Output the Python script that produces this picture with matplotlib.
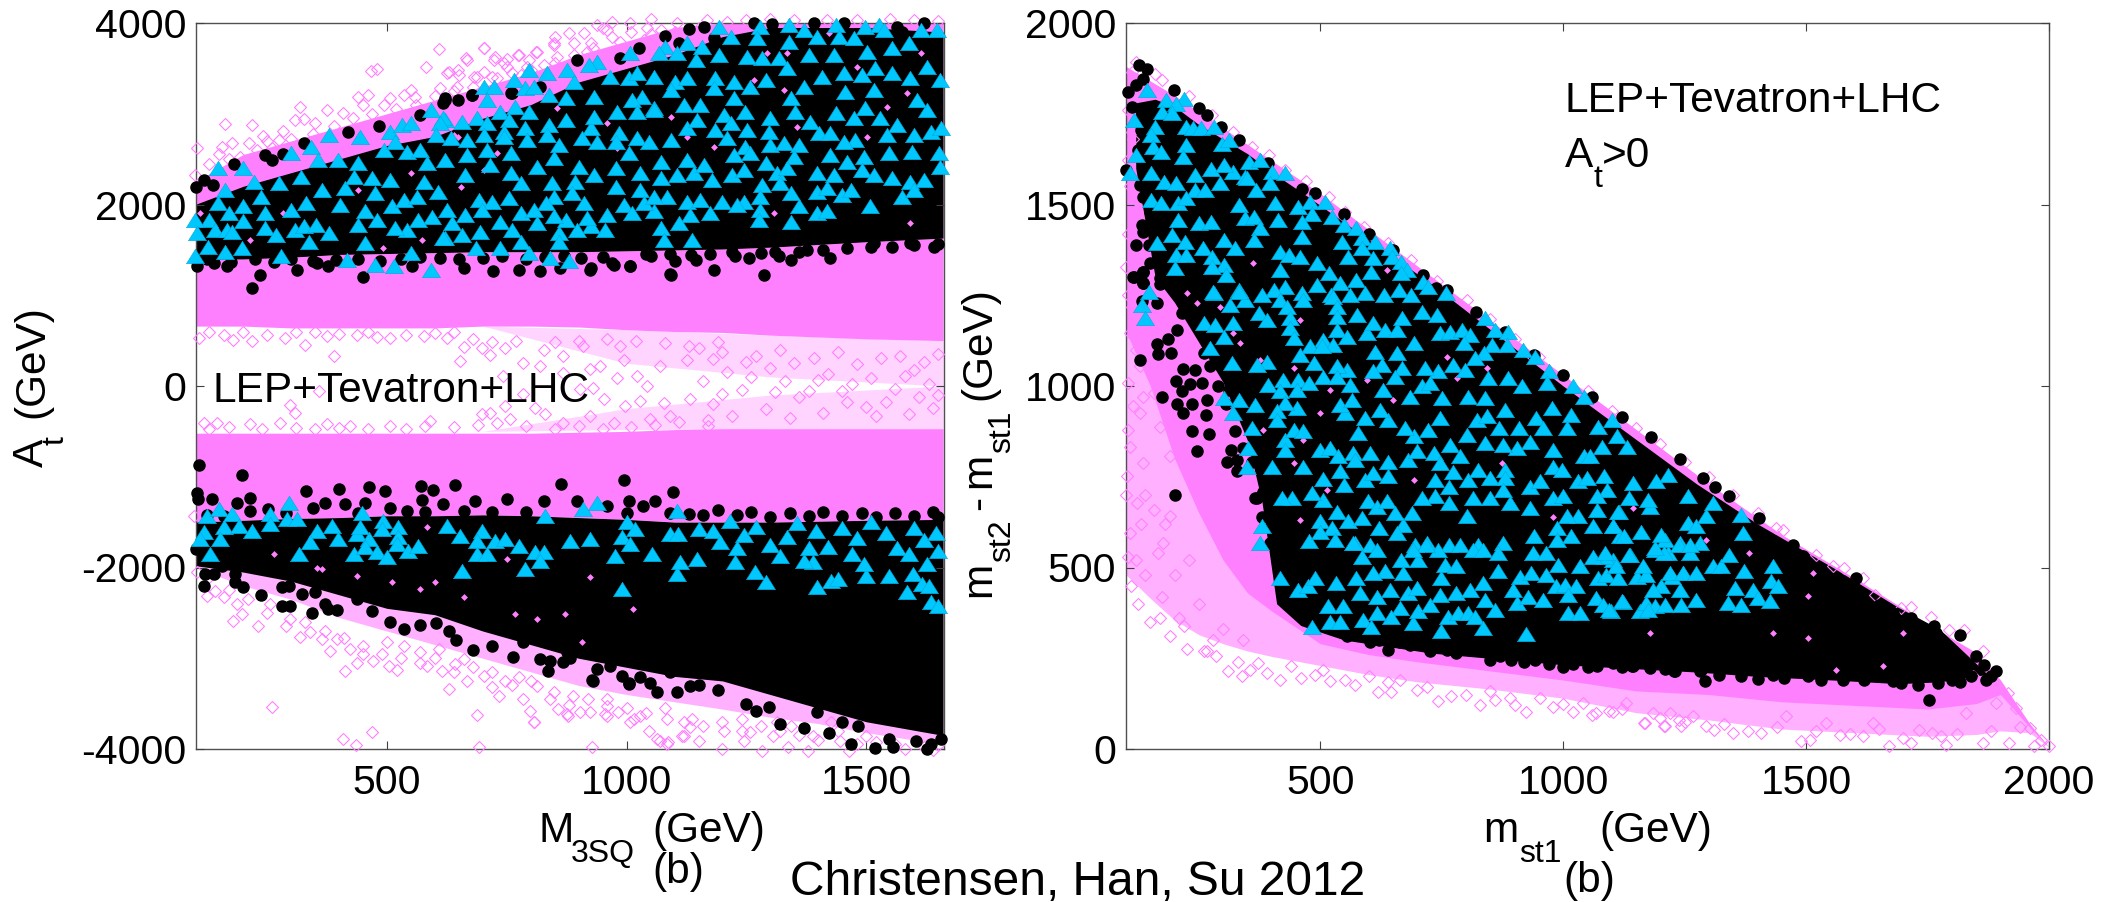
#!/usr/bin/env python
# dense parts of the clouds are drawn as bands, the edge points one by one
import numpy as np
import matplotlib
matplotlib.use('Agg')
import matplotlib.pyplot as plt

plt.rcParams['font.family'] = ['Liberation Sans', 'DejaVu Sans']
plt.rcParams['axes.unicode_minus'] = False

PINK = '#ff80ff'
PALE = '#ffb0ff'
FAINT = '#ffd4ff'
CYAN = '#00c8ff'
TRI = [(-1, -0.8), (1, -0.8), (0, 0.8), (-1, -0.8)]

# left panel, bands
l_x = [100, 200, 300, 400, 500, 600, 700, 800, 900, 1000, 1100, 1200, 1300, 1400, 1500, 1660]
l_pink_top = [2250, 2550, 2700, 2850, 3000, 3150, 3300, 3450, 3650, 3800, 3950, 4000, 4000, 4000, 4000, 4000]
l_black_top = [2000, 2200, 2350, 2500, 2650, 2750, 2950, 3100, 3350, 3500, 3650, 3850, 3950, 3950, 3950, 3900]
l_black_bot = [1400, 1400, 1420, 1450, 1460, 1470, 1480, 1480, 1480, 1490, 1500, 1510, 1530, 1560, 1590, 1630]
l_dense_low = [660, 660, 640, 640, 640, 640, 660, 660, 650, 620, 600, 590, 560, 540, 520, 500]
l_gap_top = [-520, -520, -520, -520, -520, -520, -520, -520, -510, -500, -480, -470, -470, -470, -470, -470]
l_low_black_top = [-1500, -1480, -1460, -1450, -1430, -1430, -1420, -1430, -1450, -1470, -1500, -1500, -1500, -1490, -1480, -1470]
l_low_black_bot = [-1980, -2050, -2150, -2300, -2450, -2520, -2700, -2850, -3000, -3100, -3200, -3250, -3400, -3550, -3700, -3850]
l_low_pink_bot = [-2000, -2200, -2350, -2550, -2700, -2850, -3000, -3150, -3300, -3400, -3480, -3560, -3650, -3720, -3820, -3950]
l_wedge_x = [700, 1000, 1300, 1660]
l_wedge_top = [660, 620, 560, 500]
l_wedge_mid_up = [660, 250, 100, 0]
l_wedge_mid_low = [-500, -250, -100, 0]
l_wedge_bot = [-500, -480, -470, -470]

# left panel, single open diamonds
l_diamonds = [162,2884, 218,2877, 242,2756, 318,3079, 309,2932, 327,2939, 283,2814, 275,2712, 467,3471, 480,3490,
    581,3519, 609,3710, 703,3728, 439,3189, 506,3170, 536,3207, 558,3189, 625,3453, 666,3611, 726,3629, 774,3647,
    811,3684, 849,3776, 104,2620, 100,2326, 156,2638, 178,2675, 212,2675, 193,2528, 376,3042, 409,3005, 461,3207,
    495,3097, 610,3280, 648,3482, 689,3409, 745,3556, 797,3592, 702,3721, 668,3592, 629,3464, 723,3592, 775,3648,
    814,3684, 848,3758, 880,3886, 911,3893, 939,3978, 970,4015, 1008,3996, 1043,3941, 1071,3923, 1105,3996,
    1168,4033, 1210,4015, 1418,4033, 793,3519, 751,3519, 681,3409, 647,3299, 855,3629, 890,3776, 925,3776, 960,3923,
    987,3794, 1036,3813, 918,3684, 827,3537, 779,3427, 702,3464, 730,3391,
    130,2450, 170,2500, 230,2600, 260,2620, 300,2720, 345,2780, 390,2860, 430,2950, 470,3000, 520,3050, 560,3100,
    600,3200, 640,3250, 680,3300, 720,3400, 760,3450, 800,3480, 850,3560, 890,3650, 930,3720, 970,3850, 1010,3900,
    1050,3880, 1100,3900, 1150,3950, 1250,4030, 1300,4040, 1350,4030, 1480,4030, 1550,4040, 1600,4030, 1650,4020,
    150,2560, 250,2700, 350,2900, 450,3100, 550,3260, 650,3430, 750,3600, 850,3850, 950,3950, 1050,4040,
    109,531, 180,512, 219,494, 288,531, 330,457, 389,329, 375,549, 437,567, 507,531, 577,549, 625,531, 660,431,
    652,274, 698,420, 716,347, 747,420, 785,255, 827,402, 868,329, 910,439, 945,219, 987,439, 1021,108, 1070,219,
    1125,292, 994,292, 931,-20, 1028,-167, 1077,-185, 997,-222, 952,-148, 903,-38, 830,-314, 785,-93, 698,-314,
    716,-295, 747,-222, 809,-240, 757,-369, 358,-57, 297,-211, 309,-295, 590,-387, 868,-405, 924,-332, 973,-405,
    1049,-369, 1091,-332, 1132,-148, 1042,-2, 980,90, 924,182, 868,145, 820,219, 743,108, 118,-405, 146,-405,
    215,-424, 278,-405, 375,-424, 424,-442, 507,-442,
    130,600, 160,560, 200,590, 250,560, 310,590, 350,600, 400,570, 460,600, 480,540, 540,560, 600,580, 640,600,
    680,520, 720,480, 770,500, 850,480, 900,500, 960,520, 1020,500, 1080,470, 1130,440, 1190,480, 130,-470, 170,-450,
    240,-470, 310,-460, 350,-470, 400,-460, 460,-470, 540,-470, 580,-440, 640,-450, 690,-430, 730,-410, 790,-440,
    850,-470, 900,-440, 950,-470, 1010,-450, 1060,-430, 1110,-400, 1170,-440,
    1150,420, 1180,300, 1210,150, 1240,-40, 1270,330, 1300,200, 1330,60, 1360,-120, 1390,310, 1420,130, 1450,-50,
    1480,240, 1510,90, 1540,-180, 1570,330, 1600,180, 1630,20, 1650,-100, 1180,-200, 1220,-330, 1260,100, 1290,-250,
    1320,400, 1350,250, 1380,-60, 1410,-300, 1440,380, 1470,20, 1500,-230, 1530,310, 1560,-30, 1590,-310, 1620,260,
    1640,-240, 1160,60, 1200,-90, 1250,260, 1310,-70, 1340,-350, 1400,70, 1460,-180, 1520,-330, 1580,110, 1610,-120,
    1650,350, 1200,370, 1170,-380,
    260,-3534, 688,-3625, 408,-3890, 469,-3809, 436,-3952, 693,-3981, 927,-3981, 1070,-3915, 1085,-3945, 629,-3339,
    667,-3247, 733,-3413, 806,-3706, 799,-3578, 875,-3614, 858,-3559, 785,-3449, 959,-3523, 983,-3596, 1007,-3706,
    1046,-3798, 955,-3614, 924,-3596, 903,-3596, 1115,-3853, 1132,-3761, 1084,-3669, 1028,-3633, 180,-2587, 198,-2513,
    232,-2642, 319,-2770, 340,-2715, 382,-2917, 413,-3137, 437,-3053, 472,-3027, 504,-3082, 521,-3126, 424,-2899,
    451,-2862, 583,-3082, 615,-3137, 643,-3064, 660,-3009, 702,-3192, 719,-3321, 747,-3247, 775,-3211, 813,-3302,
    848,-3376, 889,-3413, 187,-2403, 160,-2330, 125,-2312, 142,-2256, 104,-2055, 97,-1431, 257,-2403, 298,-2568,
    365,-2789, 396,-2789, 500,-2825, 535,-2862, 570,-2935, 608,-2899, 1063,-3889, 1086,-3926, 807,-3705, 1198,-3999,
    1282,-4017, 1337,-3981, 1379,-4017, 1463,-4017, 877,-3632, 960,-3632, 1016,-3669, 1119,-3852, 1151,-3907,
    1244,-3907, 1258,-3815, 1203,-3797, 1137,-3669, 1305,-3852, 1389,-3852, 1445,-3907, 1342,-3742, 1426,-3705,
    1240,-3669, 1314,-3705, 1500,-3852, 1560,-3950, 1620,-3980, 1650,-3960,
    130,-2100, 170,-2250, 210,-2350, 250,-2500, 290,-2650, 330,-2600, 370,-2700, 410,-2780, 450,-2950, 490,-2950,
    530,-3000, 570,-3050, 600,-3000, 640,-3150, 680,-3100, 720,-3150, 760,-3300, 800,-3250, 840,-3450, 880,-3520,
    920,-3450, 960,-3450, 1000,-3550, 1040,-3600, 1080,-3550, 1120,-3700, 1160,-3750, 1200,-3700, 1240,-3800,
    1280,-3750, 1320,-3800, 1360,-3850, 1400,-3900, 1440,-3800, 1480,-3950, 1520,-3920, 1580,-4000, 1640,-4010]

# left panel, pink showing through the black
l_holes = [855,3060, 1092,2969, 1126,2748, 1182,2638, 1328,3262, 1356,2858, 1502,2748, 1543,3079, 1585,3225, 1265,3372,
    1293,3666, 1335,3666, 1613,3666, 1422,3886, 1481,3519, 779,3170, 730,2565, 980,2620, 960,2895, 1307,1904, 640,2767,
    702,2381, 654,2198, 1592,1794, 283,1904, 439,2161, 215,1611, 491,1519, 573,1611, 111,1904, 156,2345, 551,2345,
    648,2748, 264,-1853, 365,-2018, 510,-2165, 570,-2238, 601,-2165, 660,-2330, 768,-2513, 813,-2568, 907,-2825,
    872,-2513, 1014,-2458, 924,-2110, 437,-2091, 354,-2000, 583,-1559, 750,-1908]

# left panel, black circles outside the solid bands
l_circles = [102,2198, 119,2271, 137,2216, 182,2447, 245,2546, 260,2491, 283,2557, 327,2675, 420,2803, 484,2869, 569,2987,
    621,3170, 618,3115, 649,3152, 677,3207, 759,3225, 819,3299, 622,3152, 678,3207, 761,3225, 897,3592, 987,3611,
    1025,3721, 1081,3857, 1130,3930, 1161,3960, 1265,3996, 1303,3989, 1390,3996, 1453,3996, 1564,3960, 1575,3904,
    1634,3703, 1620,3996, 1182,3831, 1109,3776,
    219,1081, 236,1228, 312,1283, 378,1320, 451,1202, 1091,1239, 775,1283, 924,1283, 820,1265, 861,1301, 1007,1320,
    973,1338, 722,1265, 660,1301, 552,1320, 354,1356, 166,1320, 139,1356, 104,1320, 1092,1226, 1286,1226, 1182,1280,
    1227,1427, 1255,1409, 1342,1390, 1376,1500, 1425,1409, 1515,1574, 1554,1537, 1641,1537, 1592,1574, 1317,1427,
    1144,1390, 1102,1372, 1050,1427, 1008,1317, 970,1354, 925,1299,
    125,1400, 175,1370, 225,1400, 265,1370, 300,1400, 345,1380, 395,1390, 440,1400, 485,1380, 530,1400, 570,1420,
    610,1410, 650,1400, 700,1410, 740,1430, 790,1400, 830,1420, 870,1430, 905,1410, 950,1420, 1040,1450, 1090,1450,
    1135,1440, 1175,1450, 1220,1480, 1280,1470, 1310,1480, 1360,1480, 1410,1500, 1460,1520, 1510,1530, 1600,1550, 1650,1570,
    105,-1181, 107,-1247, 135,-1247, 187,-1284, 214,-1229, 332,-1159, 401,-1130, 462,-1111, 497,-1159, 571,-1100,
    596,-1144, 574,-1255, 643,-1086, 864,-1082, 995,-1038, 1096,-1163, 1006,-1266, 1060,-1266, 1130,-1412, 684,-1266,
    750,-1247, 827,-1266, 896,-1266, 959,-1321, 1035,-1321, 660,-1376, 618,-1302, 542,-1376, 507,-1339, 455,-1284,
    413,-1302, 371,-1291, 347,-1339, 253,-1357, 215,-1376, 198,-985, 109,-875,
    1160,-1420, 1190,-1370, 1230,-1420, 1260,-1390, 1300,-1440, 1340,-1400, 1380,-1430, 1410,-1390, 1450,-1430,
    1490,-1400, 1520,-1440, 1560,-1400, 1600,-1430, 1640,-1390, 1650,-1440, 125,-1420, 160,-1430, 290,-1400, 440,-1400,
    580,-1390, 720,-1390, 790,-1390, 1000,-1400, 1090,-1400,
    103,-1798, 118,-2201, 121,-2073, 139,-2073, 156,-1981, 184,-2073, 184,-2165, 201,-2220, 237,-2304, 281,-2422,
    297,-2422, 281,-2220, 295,-2209, 323,-2293, 344,-2502, 351,-2275, 371,-2403, 378,-2458, 396,-2466, 437,-2348,
    469,-2477, 507,-2605, 535,-2679, 570,-2631, 603,-2612, 629,-2697, 645,-2800, 679,-2910, 719,-2862, 764,-2990,
    785,-2825, 820,-3009, 837,-3137, 841,-3027, 867,-3046, 882,-3001, 875,-2928, 927,-3240, 938,-3119, 966,-3082,
    990,-3192, 1006,-3273, 1049,-3273, 1063,-3376, 1105,-3376, 1132,-3302, 1091,-3156, 1028,-3211, 930,-3247,
    1005,-3283, 1249,-3503, 1270,-3577, 1296,-3540, 1319,-3724, 1370,-3768, 1423,-3826, 1468,-3944, 1519,-3992,
    1556,-3981, 1626,-3999, 1635,-3944, 1655,-3889, 1635,-3705, 1603,-3907, 1547,-3889, 1482,-3742, 1449,-3705,
    1398,-3595, 1190,-3350, 1150,-3290]

# left panel, cyan triangles, upper band
l_tri_up = [1192,3960, 1217,3850, 1279,3960, 1272,3831, 1338,3978, 1338,3794, 1370,3923, 1397,3850, 1436,3978, 1442,3850,
    1474,3831, 1498,3960, 1526,3978, 1536,3923, 1613,3923, 1648,3923, 1588,3776, 1554,3721, 1502,3684, 1432,3648,
    1380,3648, 1317,3611, 1283,3611, 1251,3629, 1192,3648, 1158,3739, 1126,3776, 1081,3739, 1067,3666, 1105,3666,
    1144,3592, 1008,3666, 939,3574, 876,3482, 834,3446, 796,3482, 765,3372, 702,3299, 723,3299, 789,3281, 807,3299,
    838,3207, 890,3354, 921,3537, 966,3409, 1005,3391, 1022,3446, 1057,3409, 1102,3354, 1092,3262, 1126,3391, 1185,3391,
    1224,3354, 1290,3372, 1335,3501, 1408,3409, 1453,3446, 1491,3427, 1519,3501, 1554,3446, 1592,3391, 1654,3372,
    1626,3519, 1456,3244, 1515,3262, 1370,3299, 1342,3170, 1258,3299, 1224,3170, 1182,3281, 1154,3097, 1119,3097,
    1057,3060, 1032,3189, 1012,3152, 980,3024, 932,3189, 873,3170, 796,3024, 768,3079, 737,3024, 709,3152, 657,2914,
    622,2932, 688,2950, 754,2932, 709,2895, 744,2803, 789,2840, 838,2877, 873,2932, 925,2840, 932,2969, 1022,3024,
    1057,3042, 1126,2840, 1147,2932, 1203,2987, 1248,3024, 1300,2950, 1352,3024, 1383,2914, 1436,3005, 1474,2950,
    1498,3060, 1529,2950, 1564,2877, 1627,3042, 1606,3152, 1185,2822, 1217,2895, 1251,2822, 1297,2803, 1401,2785,
    1425,2785, 1477,2712, 1453,2693, 1543,2767, 1599,2767, 1634,2803, 1655,2840, 633,2730, 622,2492, 668,2712, 702,2767,
    744,2748, 793,2712, 834,2767, 859,2657, 907,2730, 939,2693, 984,2785, 977,2693, 1022,2730, 1046,2693, 1092,2712,
    1210,2730, 1248,2638, 1300,2657, 1328,2675, 1359,2657, 1425,2547, 1460,2473, 1495,2528, 1547,2565, 1595,2583,
    1651,2565, 668,2547, 664,2326, 709,2602, 758,2565, 758,2345, 779,2235, 716,2437, 814,2418, 848,2510, 900,2418,
    932,2326, 977,2400, 1005,2565, 1029,2345, 1071,2473, 1071,2290, 1105,2326, 1126,2492, 1140,2345, 1161,2437,
    1178,2271, 1220,2326, 1224,2547, 1258,2565, 1290,2455, 1244,2381, 1314,2345, 1349,2528, 1335,2400, 1397,2345,
    1432,2326, 1491,2381, 1515,2326, 1554,2290, 1592,2253, 1620,2271, 1654,2418, 977,2198, 893,2253, 845,2235, 1029,2161,
    1085,2088, 1126,2033, 1154,2051, 1199,2033, 1244,2033, 1283,2216, 1279,2088, 1342,2124, 1321,2235, 1397,2143,
    1418,2180, 1449,2106, 1467,2161, 1574,2088, 1599,2161, 1508,1978, 1397,1904, 1418,1923, 1359,1978, 1279,1941,
    1276,1831, 1342,1812, 1231,1996, 1175,1904, 1133,1886, 1109,1794, 1071,1739, 1078,1611, 1137,1611, 956,1721,
    959,1886, 925,1758, 918,1850, 911,2014, 887,2124, 848,2088, 994,1996, 1012,1904, 1057,1923, 1036,2014, 1057,2088,
    897,1721, 859,1684, 859,1592, 880,1372, 841,1409, 796,1464, 737,1519, 685,1519, 779,1592, 761,1721, 695,1702,
    657,1666, 622,1629, 636,1794, 626,1941, 664,1886, 692,2051, 720,2033, 754,2070, 699,1941, 737,1812, 779,1904,
    807,1941, 831,2014, 873,1831, 814,1794, 848,1868,
    148,2400, 200,2400, 301,2565, 342,2638, 379,2767, 443,2748, 506,2803, 532,2877, 551,2895, 592,3042, 618,2950,
    398,2491, 439,2455, 495,2601, 517,2693, 543,2583, 569,2601, 610,2895, 603,2767, 584,2455, 357,2491, 320,2308,
    275,2235, 223,2253, 163,2161, 148,2014, 238,2088, 201,1978, 171,1904, 130,1831, 100,1831, 104,1684, 141,1721,
    167,1721, 178,1702, 201,1813, 245,1904, 245,1739, 301,1941, 331,2014, 309,1721, 327,1758, 353,1776, 268,1666,
    338,1592, 379,1684, 279,1427, 197,1519, 163,1482, 126,1537, 100,1427, 417,1390, 454,1574, 439,1776, 480,1831,
    454,1923, 402,1996, 365,2161, 413,2179, 432,2308, 469,2289, 506,2271, 476,2124, 510,1978, 536,2051, 562,2088,
    577,2253, 607,2143, 595,1867, 543,1721, 566,1831, 517,1739, 618,1629, 551,1464, 514,1317, 476,1336, 592,1280]

# left panel, cyan triangles, lower band
l_tri_low = [295,-1284, 125,-1431, 149,-1357, 177,-1412, 257,-1412, 118,-1614, 111,-1688, 160,-1559, 191,-1541, 219,-1596,
    257,-1522, 292,-1467, 312,-1467, 153,-1688, 132,-1853, 316,-1853, 354,-1596, 340,-1724, 385,-1541, 399,-1688,
    437,-1633, 462,-1688, 448,-1394, 444,-1559, 493,-1486, 490,-1578, 524,-1559, 524,-1669, 521,-1743, 431,-1853,
    455,-1779, 479,-1834, 500,-1889, 545,-1816, 566,-1761, 625,-1541, 653,-1651, 698,-1596, 688,-1706, 688,-1853,
    709,-1853, 726,-1706, 747,-1688, 775,-1761, 809,-1834, 827,-1834, 820,-1926, 788,-2018, 656,-2036, 830,-1431,
    882,-1706, 924,-1688, 910,-1357, 938,-1284, 990,-2238, 976,-1871, 990,-1669, 1007,-1743, 1000,-1504, 1018,-1578,
    1053,-1853, 1091,-1633, 1108,-1633, 1105,-1376, 1105,-2073, 1112,-1944, 1146,-1908, 1150,-1578, 1268,-2054,
    1291,-2164, 1226,-1944, 1398,-2219, 1426,-2146, 1440,-2127, 1500,-2090, 1496,-1962, 1547,-2090, 1598,-2072,
    1584,-2274, 1617,-2182, 1631,-2200, 1635,-2384, 1650,-2421, 1626,-1962, 1389,-1944, 1370,-1925,
    1180,-1600, 1215,-1490, 1245,-1640, 1270,-1550, 1300,-1750, 1335,-1660, 1355,-1510, 1395,-1600, 1420,-1770,
    1450,-1560, 1480,-1680, 1510,-1500, 1540,-1620, 1565,-1780, 1600,-1560, 1620,-1700, 1645,-1620, 1650,-1820,
    1590,-1850, 1470,-1850, 1380,-1780, 1320,-1870, 1230,-1790, 1195,-1720]

# right panel, bands
r_x = [100, 150, 200, 250, 300, 350, 400, 500, 600, 700, 850, 1000, 1150, 1300, 1450, 1600, 1750, 1850, 1900, 1960, 2000]
r_pink_top = [1880, 1840, 1800, 1755, 1710, 1665, 1620, 1530, 1430, 1330, 1180, 1030, 880, 730, 590, 470, 345, 265, 190, 70, 5]
r_pale_low = [480, 415, 355, 315, 290, 270, 255, 230, 205, 185, 165, 140, 100, 80, 55, 45, 35, 40, 50, 45, 5]
r_dense_low = [1150, 1000, 800, 650, 520, 430, 380, 290, 260, 240, 215, 190, 160, 150, 130, 120, 110, 125, 150, 60, 5]
r_black_x = [120, 160, 200, 250, 300, 350, 380, 410, 460, 550, 730, 1000, 1275, 1400, 1555, 1690, 1775, 1870]
r_black_top = [1780, 1790, 1770, 1720, 1680, 1640, 1610, 1580, 1535, 1450, 1280, 1000, 730, 620, 500, 390, 330, 210]
r_black_bot = [1600, 1300, 1230, 1120, 1010, 850, 680, 400, 340, 300, 264, 232, 212, 200, 190, 180, 185, 205]

# right panel, single open diamonds
r_diamonds = [266,269, 310,214, 338,202, 355,218, 417,191, 461,195, 520,186, 571,177, 619,158, 646,158, 698,163, 742,131,
    770,145, 828,122, 859,136, 924,103, 979,117, 1020,103, 1068,99, 1103,103, 1168,71, 1209,62, 1243,62, 1185,99,
    286,255, 372,236, 506,218, 664,191, 890,140, 952,140, 1041,126, 1130,126, 1219,99, 1267,90,
    1095,104, 1167,72, 1208,62, 1239,81, 1294,62, 1311,53, 1349,44, 1407,44, 1490,21, 1507,26, 1569,39, 1617,35,
    1671,7, 1716,17, 1788,12, 1778,35, 1864,17, 1918,17, 1970,7, 1984,26, 2000,7, 1960,58, 1932,113, 1915,154,
    1864,269, 1826,329, 1795,329, 1757,365, 1716,391, 1695,388, 1641,425, 1617,471, 1579,498, 1555,503, 1521,535,
    1452,604, 1438,609, 1843,200, 1891,127, 1829,99, 1733,53, 1637,72, 1541,72, 1459,90,
    120,1893, 175,1843, 113,1866, 113,1700, 105,1622, 105,1420, 116,1521, 101,1329, 124,1356, 278,1746, 360,1659,
    427,1595, 518,1522, 589,1439, 687,1347, 801,1237, 900,1130, 1000,1030, 1100,930, 1200,840, 1300,750,
    160,1860, 230,1800, 320,1700, 395,1635, 470,1565, 550,1480, 640,1395, 740,1290, 850,1185, 950,1080, 1050,985,
    1150,885, 1250,790, 1350,700, 1400,650,
    109,1146, 119,1265, 112,1219, 115,944, 129,925, 109,833, 136,788, 102,751, 122,677, 157,659, 191,641, 177,567,
    109,595, 136,971, 157,980, 170,888, 191,806, 105,1008, 129,1054, 150,1191, 105,530, 140,480, 175,420, 210,360,
    110,450, 125,400, 150,350, 190,310, 225,275, 260,270, 100,700, 130,620, 165,540, 200,480, 140,700, 180,620,
    230,520, 120,520, 250,400, 300,330, 340,300, 170,360, 220,340, 280,300, 105,880, 120,1100, 105,1250, 125,1450,
    108,1550, 115,1680, 105,1760,
    330,240, 390,210, 440,230, 490,205, 550,190, 600,200, 640,185, 720,170, 800,150, 850,160, 900,120, 1000,125,
    1060,95, 1120,110, 1200,85, 1250,75, 1330,70, 1380,50, 1440,60, 1520,50, 1590,40, 1650,55, 1700,30, 1760,45,
    1810,40, 1880,50, 1940,60]

# right panel, pink showing through the black
r_holes = [362,1338, 637,1320, 458,1182, 321,1145, 335,1118, 376,1072, 445,1049, 520,989, 650,962, 760,1081, 843,1049,
    500,925, 465,852, 692,742, 781,1021, 445,788, 383,879, 513,714, 458,631, 874,787, 980,640, 596,1017, 225,1256,
    246,1228, 294,1219, 1503,306, 1699,319, 1503,422, 1383,540, 1431,319, 1178,319, 1562,218, 1658,228, 1514,485,
    1294,576, 1143,664]

# right panel, black circles outside the solid band
r_circles = [126,1884, 144,1873, 136,1847, 120,1829, 105,1811, 113,1769, 132,1751, 130,1705, 199,1815, 250,1765, 266,1746,
    296,1714, 333,1677, 392,1613, 463,1544, 490,1531, 101,1595, 124,1650, 136,1609, 128,1553, 136,1521, 132,1443,
    136,1425, 120,1388, 148,1388, 136,1315, 116,1301, 136,1283, 164,1347, 160,1448, 549,1475, 711,1306, 738,1269,
    115,1300, 135,1313, 136,1283, 170,1297, 133,1233, 163,1228, 205,1155, 186,1129, 163,1115, 166,1089, 192,1090,
    129,1072, 217,1046, 203,1014, 232,1005, 175,971, 215,985, 206,950, 235,951, 218,925, 265,921, 235,877, 270,867,
    246,820, 200,700, 316,824, 308,792, 328,797, 328,765, 366,691, 383,705, 266,962, 290,1000, 311,989, 242,1043,
    273,1054, 256,1008, 325,875,
    454,377, 509,397, 537,420, 554,310, 602,296, 640,273, 684,287, 664,296, 725,269, 760,273, 808,273, 849,246,
    893,244, 941,246, 1000,227, 1051,227, 1103,236, 1144,229, 1178,223, 1230,214, 1281,214, 369,691, 382,709, 410,732,
    434,718, 417,519, 461,475, 430,572, 396,567,
    1142,230, 1178,228, 1229,216, 1291,186, 1284,218, 1365,200, 1402,193, 1431,205, 1503,200, 1575,191, 1647,200,
    1678,186, 1696,182, 1771,182, 1817,184, 1754,136, 1870,189, 1891,214, 1881,200, 1817,313, 1764,340, 1768,319,
    1850,255, 1867,232, 1603,471, 1524,498, 1651,397, 1716,361, 1287,746, 1313,723, 1341,696, 1404,636, 1473,563,
    1493,531, 1678,375,
    420,480, 450,430, 500,360, 575,330, 620,300, 700,290, 780,265, 870,255, 920,240, 970,235, 1020,235, 1070,230,
    1120,225, 1210,220, 1320,205, 1455,195, 1530,190, 1620,190, 1730,175, 1800,190, 1840,200, 380,640, 360,790,
    340,830, 305,950, 260,1090, 215,1200, 170,1280, 150,1340, 150,1480, 155,1560, 145,1640, 600,1420, 650,1375,
    760,1265, 820,1205, 880,1150, 940,1085, 1000,1030, 1060,970, 1120,915, 1180,860, 1240,800]

# right panel, cyan triangles
r_triangles = [144,1815, 116,1733, 109,1586, 120,1636, 183,1788, 219,1792, 203,1778, 175,1755, 195,1751, 160,1714, 152,1691,
    156,1659, 172,1645, 152,1586, 223,1714, 238,1710, 254,1710, 282,1714, 223,1664, 217,1632, 242,1581, 274,1599,
    297,1668, 313,1677, 353,1618, 376,1622, 400,1590, 427,1586, 396,1558, 321,1590, 345,1576, 301,1609, 294,1558,
    242,1540, 262,1540, 179,1563, 203,1558, 152,1512, 172,1503, 207,1503, 223,1517, 333,1498, 349,1572, 368,1540,
    406,1503, 455,1494, 478,1508, 510,1508, 482,1475, 524,1466, 463,1453, 412,1457, 345,1462, 364,1466, 375,1434,
    364,1402, 301,1402, 325,1379, 258,1379, 207,1457, 250,1448, 274,1453, 194,1416, 221,1397, 164,1393, 203,1361,
    223,1361, 201,1324, 278,1356, 301,1333, 278,1329, 305,1306, 416,1370, 435,1361, 459,1356, 463,1411, 545,1397,
    549,1443, 573,1434, 585,1407, 612,1397, 644,1379, 648,1356, 667,1342, 679,1319, 585,1379, 557,1356, 608,1352,
    604,1315, 494,1338, 518,1310, 416,1319, 541,1283, 573,1292, 494,1278, 427,1274, 404,1264, 463,1255, 333,1264,
    380,1251, 282,1255, 148,1260, 663,1264, 687,1251, 711,1287, 758,1255, 667,1310, 722,1274, 593,1255, 632,1251,
    561,1251, 522,1251,
    133,1224, 139,1187, 314,1224, 280,1260, 345,1237, 332,1260, 373,1201, 390,1182, 417,1237, 431,1219, 465,1237,
    527,1246, 575,1196, 534,1219, 534,1191, 438,1187, 438,1159, 445,1132, 534,1155, 554,1136, 506,1127, 527,1113,
    479,1109, 458,1086, 503,1109, 486,1063, 596,1145, 609,1173, 633,1155, 657,1155, 668,1187, 709,1205, 740,1196,
    692,1118, 747,1145, 767,1150, 791,1155, 808,1141, 795,1118, 839,1187, 860,1155, 887,1150, 853,1113, 884,1113,
    918,1100, 942,1081, 836,1090, 819,1077, 774,1058, 798,1045, 743,1040, 716,1049, 668,1049, 657,1090, 613,1095,
    626,1058, 609,1040, 554,1045, 534,1054, 318,1063, 273,1104, 260,1173, 283,1168, 321,1173, 301,1136, 390,1067,
    369,1058, 424,1017, 455,1017, 393,1003, 417,985, 452,989, 476,1008, 506,1026, 534,1026, 561,1003, 630,989,
    654,1026, 685,971, 709,999, 726,1008, 750,966, 805,971, 839,966, 846,1022, 887,1022, 915,999, 970,1040, 966,1008,
    1021,999, 1042,971, 976,939, 1017,921, 945,911, 880,934, 822,907, 843,916, 867,884, 908,884, 959,884, 1007,884,
    1072,888, 1100,907, 1110,861, 1131,833, 1079,833, 1042,806, 1055,806, 980,824, 932,847, 904,829, 877,838, 839,843,
    801,866, 767,838, 747,911, 722,879, 692,861, 675,884, 640,907, 592,911, 623,934, 551,925, 541,948, 565,962,
    452,939, 428,953, 410,930, 410,907, 366,948, 332,962, 301,966, 321,925, 359,884, 352,829, 349,778, 400,778,
    380,613, 376,567, 428,852, 445,879, 465,875, 428,824, 500,824, 520,829, 537,806, 578,870, 568,815, 572,797,
    603,815, 640,792, 681,797, 699,820, 733,815, 747,788, 788,806, 774,764, 736,742, 764,723, 805,742, 825,769,
    849,746, 880,769, 880,746, 932,723, 952,737, 980,778, 997,769, 980,691, 1000,696, 1031,737, 1048,746, 1083,751,
    1090,714, 1069,696, 1069,659, 1114,654, 1103,613, 1062,613, 1117,586, 1031,641, 1007,641, 987,608, 932,664,
    939,586, 891,677, 877,714, 849,691, 801,641, 815,691, 764,677, 736,696, 709,691, 688,650, 671,618, 620,608,
    657,595, 599,682, 616,668, 637,682, 654,650, 592,742, 609,760, 640,751, 541,765, 548,728, 506,745, 506,687,
    534,654, 482,705, 441,691, 421,691, 465,778, 500,627, 524,608, 558,627, 585,636, 476,572, 530,576, 500,599,
    572,567, 603,563, 695,563, 719,567, 764,563, 788,563, 825,563, 877,567, 987,576, 1017,586,
    417,471, 454,438, 475,448, 489,471, 533,457, 482,337, 516,393, 547,393, 520,351, 540,351, 574,471, 581,429,
    588,356, 605,337, 568,567, 616,549, 585,530, 667,521, 701,521, 633,489, 609,484, 670,484, 643,438, 681,429,
    698,443, 616,420, 664,388, 691,347, 701,379, 646,365, 616,374, 725,397, 746,425, 780,429, 808,438, 835,457,
    866,489, 815,549, 835,549, 866,539, 749,471, 756,507, 780,503, 742,549, 718,562, 691,549, 763,365, 784,374,
    804,374, 818,365, 835,333, 749,324, 839,411, 859,383, 924,317, 911,475, 934,484, 904,402, 897,438, 928,420,
    959,411, 965,480, 938,539, 965,539, 989,507, 986,448, 1003,452, 1027,448, 1034,503, 1010,374, 1034,374, 1010,425,
    1068,415, 1099,379, 1082,397, 1123,406, 1158,379, 1171,402, 1151,475, 1171,480, 1137,535, 1103,521, 1085,530,
    1062,530, 1072,471, 1089,480, 1113,471, 1188,393, 1209,397, 1243,397, 1274,411, 1223,475, 1247,484, 1202,448,
    1240,438, 1188,549, 1216,539, 1260,539, 1240,567, 1209,576, 1281,567,
    1095,384, 1122,407, 1174,384, 1184,439, 1219,485, 1246,485, 1274,485, 1308,503, 1325,503, 1342,535, 1373,489,
    1353,443, 1390,439, 1428,462, 1442,448, 1431,503, 1339,402, 1366,397, 1401,416, 1425,407, 1239,563, 1260,563,
    1208,540, 1188,554, 1202,590, 1160,599, 1256,622, 1274,613, 1294,641, 1370,595, 1366,645, 1308,677, 1256,696,
    1178,668, 1174,687, 1143,733, 1215,756, 1191,737, 1112,654, 1136,691, 1102,613, 1126,586, 1085,540, 1136,535,
    1109,503, 1164,503]


def pairs(flat):
    return np.array(flat, dtype=float).reshape(-1, 2)


def plotPoints(ax, diamonds, holes, circles, triangles):
    d = pairs(diamonds)
    ax.plot(d[:, 0], d[:, 1], ls='none', marker='D', ms=6, mfc='none', mec=PINK, mew=0.8, clip_on=False, zorder=3)
    c = pairs(circles)
    ax.plot(c[:, 0], c[:, 1], ls='none', marker='o', ms=8, color='black', clip_on=False, zorder=4)
    h = pairs(holes)
    ax.plot(h[:, 0], h[:, 1], ls='none', marker='D', ms=3.5, color=PINK, mew=0, clip_on=False, zorder=5)
    t = pairs(triangles)
    ax.plot(t[:, 0], t[:, 1], ls='none', marker=TRI, ms=13, mfc=CYAN, mec='#00a8d8', mew=0.4, clip_on=False, zorder=6)


def styleAxes(ax, xlim, ylim, xticks, yticks):
    ax.set_xlim(xlim)
    ax.set_ylim(ylim)
    ax.set_xticks(xticks)
    ax.set_yticks(yticks)
    ax.tick_params(direction='in', length=6, width=0.8, color='#404040', top=True, right=True,
                   labelsize=TICK_SIZE, pad=7)
    ax.tick_params(axis='x', pad=11)
    ax.set_axisbelow(False)
    for s in ax.spines.values():
        s.set_color('#505050')
        s.set_linewidth(1.0)
        s.set_zorder(2.5)


def figText(x, y, s, size=30.5, **kw):
    # x and y are picture pixels, the baseline of the text
    fig.text(x / W, 1 - y / H, s, fontsize=size, va='baseline', zorder=10, **kw)


def figTextUp(x, y, s, size=30.5):
    fig.text(x / W, 1 - y / H, s, fontsize=size, va='baseline', ha='left', rotation=90,
             rotation_mode='anchor', zorder=10)


W, H = 2104.0, 902.0
TICK_SIZE = 29.5
fig = plt.figure(figsize=(W / 100, H / 100), dpi=100, facecolor='white')

# left panel
ax1 = fig.add_axes([196 / W, 1 - 749 / H, 748 / W, 726 / H])
ax1.fill_between(l_wedge_x, l_wedge_mid_up, l_wedge_top, color=FAINT, lw=0, zorder=1)
ax1.fill_between(l_wedge_x, l_wedge_bot, l_wedge_mid_low, color=FAINT, lw=0, zorder=1)
ax1.fill_between(l_x, l_black_bot, l_pink_top, color=PINK, lw=0, zorder=1)
ax1.fill_between(l_x, l_dense_low, l_black_bot, color=PINK, lw=0, zorder=1)
ax1.fill_between(l_x, l_low_black_top, l_gap_top, color=PINK, lw=0, zorder=1)
ax1.fill_between(l_x, l_low_pink_bot, l_low_black_top, color=PALE, lw=0, zorder=1)
ax1.fill_between(l_x, l_black_bot, l_black_top, color='black', lw=0, zorder=2)
ax1.fill_between(l_x, l_low_black_bot, l_low_black_top, color='black', lw=0, zorder=2)
plotPoints(ax1, l_diamonds, l_holes, l_circles, l_tri_up + l_tri_low)
styleAxes(ax1, (102, 1662), (-4000, 4000), [500, 1000, 1500], [-4000, -2000, 0, 2000, 4000])

# right panel
ax2 = fig.add_axes([1126 / W, 1 - 749 / H, 923 / W, 726 / H])
ax2.fill_between(r_x, r_pale_low, r_pink_top, color=PALE, lw=0, zorder=1)
ax2.fill_between(r_x, r_dense_low, r_pink_top, color=PINK, lw=0, zorder=1)
ax2.fill_between(r_black_x, r_black_bot, r_black_top, color='black', lw=0, zorder=2)
plotPoints(ax2, r_diamonds, r_holes, r_circles, r_triangles)
styleAxes(ax2, (100, 2000), (0, 2000), [500, 1000, 1500, 2000], [0, 500, 1000, 1500, 2000])

figText(212, 402, 'LEP+Tevatron+LHC')
figText(1565, 112, 'LEP+Tevatron+LHC')
figText(1565, 167, 'A')
figText(1593, 187, 't', size=23)
figText(1602, 167, '>0')

figText(538, 842, 'M')
figText(571, 862, '3SQ', size=23)
figText(652, 842, '(GeV)')
figText(652, 883, '(b)')
figText(1483, 842, 'm')
figText(1519, 862, 'st1', size=23)
figText(1599, 842, '(GeV)')
figText(1563, 892, '(b)')
figText(790, 895, 'Christensen, Han, Su 2012', size=34.5)

figTextUp(43, 467, 'A')
figTextUp(63, 445, 't', size=23)
figTextUp(43, 418, '(GeV)')

figTextUp(990, 597, 'm')
figTextUp(1010, 562, 'st2', size=23)
figTextUp(990, 510, '-')
figTextUp(990, 488, 'm')
figTextUp(1010, 453, 'st1', size=23)
figTextUp(990, 400, '(GeV)')

fig.savefig('out.png', dpi=100)
